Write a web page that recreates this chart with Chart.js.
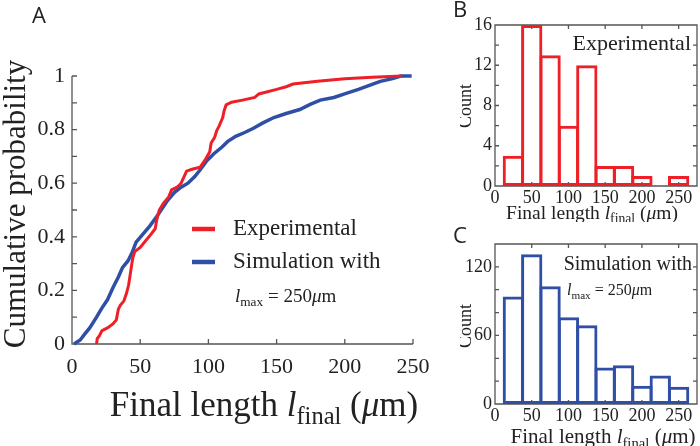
<!DOCTYPE html>
<html>
<head>
<meta charset="utf-8">
<script src="https://cdn.jsdelivr.net/npm/chart.js@4.4.1/dist/chart.umd.min.js"></script>
<style>
body { margin: 0; background: #fff; }
#wrap { position: relative; width: 700px; height: 446px; }
canvas { position: absolute; }
#cdf { left: 0; top: 0; }
#histExp { left: 460px; top: 0; }
#histSim { left: 460px; top: 222px; }
</style>
</head>
<body>
<div id="wrap">
<canvas id="cdf" width="700" height="446"></canvas>
<canvas id="histExp" width="240" height="222"></canvas>
<canvas id="histSim" width="240" height="224"></canvas>
</div>
<script>
// cumulative curves (panel A)
const expX = [18, 18.5, 20, 22, 26, 30, 32.5, 34, 35.5, 38, 40, 41.5, 43, 44.5, 46, 50, 54, 58, 61, 62, 64, 67, 71, 73, 77, 80, 84, 88, 94, 98, 101, 102, 104.5, 106, 108, 110.5, 111.5, 113, 117, 125, 134, 137, 150, 157, 162, 180, 200, 220, 242];
const expY = [0, 0.02, 0.03, 0.05, 0.06, 0.075, 0.09, 0.13, 0.145, 0.16, 0.19, 0.22, 0.27, 0.32, 0.345, 0.36, 0.385, 0.41, 0.43, 0.46, 0.5, 0.525, 0.55, 0.575, 0.585, 0.6, 0.645, 0.652, 0.66, 0.69, 0.717, 0.75, 0.77, 0.795, 0.815, 0.845, 0.87, 0.892, 0.902, 0.91, 0.92, 0.933, 0.95, 0.96, 0.97, 0.98, 0.99, 0.995, 1];
const simX = [1.5, 6, 9, 13, 18, 22, 26, 30, 34, 37, 41, 44, 47, 52, 57, 62, 66, 70, 75, 80, 85, 90, 94, 99, 104, 110, 114, 120, 127, 133, 140, 148, 157, 167, 175, 182, 192, 201, 210, 218, 226, 235, 241, 249];
const simY = [0, 0.015, 0.035, 0.06, 0.1, 0.135, 0.165, 0.21, 0.25, 0.285, 0.31, 0.34, 0.38, 0.41, 0.44, 0.475, 0.505, 0.535, 0.565, 0.585, 0.6, 0.625, 0.65, 0.685, 0.71, 0.735, 0.755, 0.775, 0.79, 0.805, 0.825, 0.845, 0.86, 0.875, 0.895, 0.91, 0.92, 0.935, 0.95, 0.965, 0.98, 0.99, 1, 1];

// histograms (panels B and C)
const binCenters = [25, 50, 75, 100, 125, 150, 175, 200, 225, 250];
const expCounts = [3, 16, 13, 6, 12, 2, 2, 1, 0, 1];
const simCounts = [94, 131, 103, 76, 69, 32, 34, 16, 25, 15];

const cdfXTicks = [0, 50, 100, 150, 200, 250];
const cdfYTicks = [0, 0.2, 0.4, 0.6, 0.8, 1];
const histXTicks = [0, 50, 100, 150, 200, 250];
const expYTicks = [0, 4, 8, 12, 16];
const simYTicks = [0, 60, 120];

const expLabel = 'Experimental';
const simLabel = 'Simulation with';
const yTitleCdf = 'Cumulative probability';
const yTitleHist = 'Count';
const xTitle = [{t: 'Final length '}, {t: 'l', it: true}, {t: 'final', sub: true}, {t: ' ('}, {t: 'μ', it: true}, {t: 'm)'}];
const lmaxText = [{t: 'l', it: true}, {t: 'max', sub: true}, {t: ' = 250'}, {t: 'μ', it: true}, {t: 'm'}];

const red = '#ee1f26';
const blue = '#2f4fa6';
const axisColor = '#555';
const textColor = '#222';
const serif = 'Liberation Serif, serif';

Chart.defaults.font.family = serif;
Chart.defaults.color = textColor;

function richText(ctx, parts, x, y, size, align) {
    const fontOf = p => (p.it ? 'italic ' : '') + (p.sub ? size * 0.7 : size) + 'px ' + serif;
    let w = 0;
    parts.forEach(p => { ctx.font = fontOf(p); w += ctx.measureText(p.t).width; });
    let cx = align === 'center' ? x - w / 2 : align === 'right' ? x - w : x;
    ctx.textAlign = 'left';
    ctx.textBaseline = 'alphabetic';
    parts.forEach(p => {
        ctx.font = fontOf(p);
        ctx.fillText(p.t, cx, p.sub ? y + size * 0.22 : y);
        cx += ctx.measureText(p.t).width;
    });
}

function rotatedText(ctx, text, x, y, size) {
    ctx.save();
    ctx.translate(x, y);
    ctx.rotate(-Math.PI / 2);
    ctx.font = size + 'px ' + serif;
    ctx.textAlign = 'center';
    ctx.textBaseline = 'alphabetic';
    ctx.fillText(text, 0, 0);
    ctx.restore();
}

// axes with inward ticks, drawn under the data
const frame = {
    id: 'frame',
    beforeDatasetsDraw(chart, args, o) {
        const {ctx, chartArea: a, scales: {x, y}} = chart;
        ctx.save();
        ctx.strokeStyle = axisColor;
        ctx.lineWidth = 1.3;
        ctx.beginPath();
        if (o.box) {
            ctx.rect(a.left, a.top, a.right - a.left, a.bottom - a.top);
        } else {
            ctx.moveTo(a.left, a.top);
            ctx.lineTo(a.left, a.bottom);
            ctx.lineTo(a.right, a.bottom);
        }
        x.ticks.forEach(t => {
            const px = x.getPixelForValue(t.value);
            ctx.moveTo(px, a.bottom);
            ctx.lineTo(px, a.bottom - o.len);
            if (o.box) {
                ctx.moveTo(px, a.top);
                ctx.lineTo(px, a.top + o.len);
            }
        });
        for (let v = y.min; v <= y.max + 1e-9; v += o.yStep) {
            const py = y.getPixelForValue(v);
            ctx.moveTo(a.left, py);
            ctx.lineTo(a.left + o.len, py);
            if (o.box) {
                ctx.moveTo(a.right, py);
                ctx.lineTo(a.right - o.len, py);
            }
        }
        ctx.stroke();
        ctx.restore();
    }
};

new Chart(document.getElementById('cdf'), {
    type: 'line',
    data: {
        datasets: [{
            label: expLabel,
            data: expX.map((x, i) => ({x: x, y: expY[i]})),
            borderColor: red,
            borderWidth: 3,
            pointRadius: 0,
            clip: false
        }, {
            label: simLabel,
            data: simX.map((x, i) => ({x: x, y: simY[i]})),
            borderColor: blue,
            borderWidth: 3.5,
            pointRadius: 0,
            clip: false
        }]
    },
    options: {
        responsive: false,
        animation: false,
        devicePixelRatio: 1,
        layout: {padding: {top: 76, right: 287, left: 0, bottom: 0}},
        plugins: {
            legend: {display: false},
            tooltip: {enabled: false},
            frame: {box: false, len: 5, yStep: 0.1}
        },
        scales: {
            x: {
                type: 'linear',
                min: 0,
                max: 250,
                afterBuildTicks: s => { s.ticks = cdfXTicks.map(v => ({value: v})); },
                afterFit: s => { s.height = 102; },
                grid: {display: false, drawTicks: false},
                border: {display: false},
                ticks: {font: {family: serif, size: 22}, color: textColor, padding: 10, maxRotation: 0, callback: v => String(v)}
            },
            y: {
                min: 0,
                max: 1,
                afterBuildTicks: s => { s.ticks = cdfYTicks.map(v => ({value: v})); },
                afterFit: s => { s.width = 72; },
                grid: {display: false, drawTicks: false},
                border: {display: false},
                ticks: {font: {family: serif, size: 22}, color: textColor, padding: 7, callback: v => String(v)}
            }
        }
    },
    plugins: [frame, {
        id: 'cdfText',
        afterDraw(chart) {
            const ctx = chart.ctx;
            ctx.save();
            ctx.fillStyle = textColor;
            rotatedText(ctx, yTitleCdf, 25, 204, 31);
            richText(ctx, xTitle, 264, 416, 35, 'center');
            // legend
            chart.data.datasets.forEach((ds, i) => {
                const ly = 229 + i * 33;
                ctx.strokeStyle = ds.borderColor;
                ctx.lineWidth = 4.5;
                ctx.beginPath();
                ctx.moveTo(192, ly);
                ctx.lineTo(215, ly);
                ctx.stroke();
                ctx.font = '23px ' + serif;
                ctx.textAlign = 'left';
                ctx.textBaseline = 'middle';
                ctx.fillText(ds.label, 233, ly);
            });
            richText(ctx, lmaxText, 235, 302, 19, 'left');
            // panel letters
            ctx.font = '22px Open Sans, sans-serif';
            ctx.textAlign = 'left';
            ctx.textBaseline = 'alphabetic';
            ctx.fillText('A', 32, 23);
            ctx.fillText('B', 453, 17);
            ctx.fillText('C', 453, 243);
            ctx.restore();
        }
    }]
});

function histChart(id, counts, color, yMax, yTicks, yStep, axisH, padTop, drawNotes) {
    return new Chart(document.getElementById(id), {
        type: 'bar',
        data: {
            datasets: [{
                data: binCenters.map((x, i) => ({x: x, y: counts[i]})),
                borderColor: color,
                backgroundColor: 'rgba(255,255,255,0)',
                borderWidth: 3,
                borderSkipped: false,
                barPercentage: 1.16,
                categoryPercentage: 1,
                clip: false
            }]
        },
        options: {
            responsive: false,
            animation: false,
            devicePixelRatio: 1,
            layout: {padding: {top: padTop, right: 3, left: 0, bottom: 0}},
            plugins: {
                legend: {display: false},
                tooltip: {enabled: false},
                frame: {box: true, len: 4, yStep: yStep}
            },
            scales: {
                x: {
                    type: 'linear',
                    offset: false,
                    min: 0,
                    max: 275,
                    afterBuildTicks: s => { s.ticks = histXTicks.map(v => ({value: v})); },
                    afterFit: s => { s.height = axisH; },
                    grid: {display: false, drawTicks: false},
                    border: {display: false},
                    ticks: {font: {family: serif, size: 18}, color: textColor, padding: 1, maxRotation: 0, callback: v => String(v)}
                },
                y: {
                    min: 0,
                    max: yMax,
                    afterBuildTicks: s => { s.ticks = yTicks.map(v => ({value: v})); },
                    afterFit: s => { s.width = 35; },
                    grid: {display: false, drawTicks: false},
                    border: {display: false},
                    ticks: {font: {family: serif, size: 18}, color: textColor, padding: 3, callback: v => String(v)}
                }
            }
        },
        plugins: [frame, {id: 'notes', afterDraw: drawNotes}]
    });
}

histChart('histExp', expCounts, red, 16, expYTicks, 2, 36, 25, chart => {
    const ctx = chart.ctx;
    ctx.save();
    ctx.fillStyle = textColor;
    rotatedText(ctx, yTitleHist, 11, 106, 18);
    richText(ctx, xTitle, 132, 219, 19.5, 'center');
    ctx.font = '22px ' + serif;
    ctx.textAlign = 'right';
    ctx.textBaseline = 'alphabetic';
    ctx.fillText(expLabel, 231, 50);
    ctx.restore();
});

histChart('histSim', simCounts, blue, 140, simYTicks, 20, 42, 22, chart => {
    const ctx = chart.ctx;
    ctx.save();
    ctx.fillStyle = textColor;
    rotatedText(ctx, yTitleHist, 11, 104, 18);
    richText(ctx, xTitle, 143, 221, 21, 'center');
    ctx.font = '20px ' + serif;
    ctx.textAlign = 'right';
    ctx.textBaseline = 'alphabetic';
    ctx.fillText(simLabel, 232, 48);
    richText(ctx, lmaxText, 107, 73, 16, 'left');
    ctx.restore();
});
</script>
</body>
</html>
